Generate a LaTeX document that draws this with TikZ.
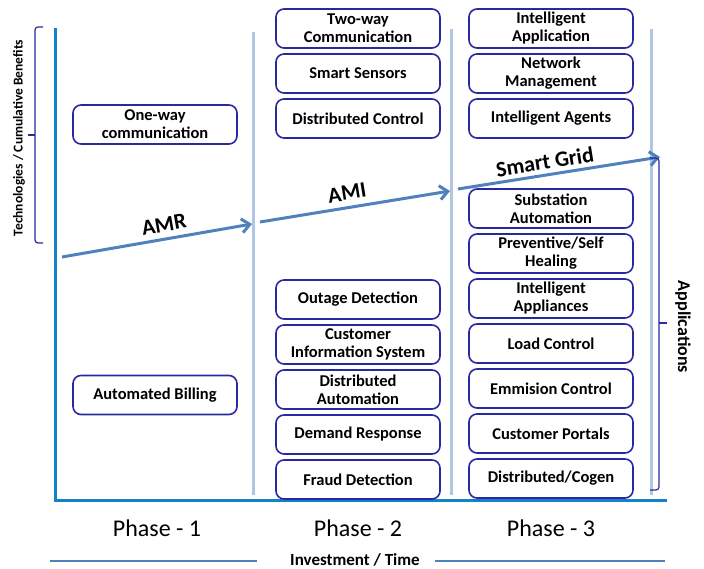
\documentclass[tikz,border=0pt]{standalone}
\usepackage{fontspec}
\setmainfont{Carlito}
\usetikzlibrary{positioning,arrows.meta}
\definecolor{axisblue}{RGB}{20,130,200}
\definecolor{sepblue}{RGB}{175,198,228}
\definecolor{arrowblue}{RGB}{79,129,189}
\definecolor{boxnavy}{RGB}{40,40,160}

\begin{document}
\begin{tikzpicture}[x=1pt,y=-1pt]
  \tikzstyle{box}=[draw=boxnavy, line width=1.6pt, rounded corners=8pt, minimum width=164pt, minimum height=39pt, inner sep=0pt, outer sep=0pt, align=center, font=\fontsize{16.5}{18}\selectfont\bfseries]
  \tikzstyle{sep}=[sepblue, line width=3pt]
  \tikzstyle{trend}=[arrowblue, line width=3pt, -{Straight Barb[length=8pt,width=14pt]}]
  \tikzstyle{trendlabel}=[sloped, above, text=black, inner sep=6pt, font=\fontsize{22}{24}\selectfont\bfseries]
  \tikzstyle{bracket}=[boxnavy, line width=1.2pt, rounded corners=3pt]
  \tikzstyle{phase}=[font=\fontsize{24}{28}\selectfont]
  \useasboundingbox (0,0) rectangle (704,569);

  \draw[sep] (253,32) -- (253,495);
  \draw[sep] (451,29) -- (451,495);
  \draw[sep] (651,29) -- (651,495);

  \draw[axisblue, line width=3pt] (55,28) -- (55,500) -- (667,500);

  \coordinate (amr0) at (62,257);
  \coordinate (amr1) at (252,224);
  \coordinate (ami0) at (260,222);
  \coordinate (ami1) at (450,191);
  \coordinate (sg0) at (458,189);
  \coordinate (sg1) at (660,157);
  \draw[trend] (amr0) -- node[trendlabel, pos=0.55] (amr) {AMR} (amr1);
  \draw[trend] (ami0) -- node[trendlabel, pos=0.47] (ami) {AMI} (ami1);
  \draw[trend] (sg0) -- node[trendlabel, pos=0.44, inner sep=4pt] (sg) {Smart Grid} (sg1);

  \node[box] (oneway) at (155,124.5) {One-way\\communication};
  \node[box] (billing) at (155,395) {Automated Billing};

  \node[box] (twoway) at (358,28.5) {Two-way\\Communication};
  \node[box] (sensors) [below=6pt of twoway] {Smart Sensors};
  \node[box] (dcontrol) [below=6pt of sensors] {Distributed Control};
  \node[box] (outage) at (358,299.5) {Outage Detection};
  \node[box] (cis) [below=6pt of outage] {Customer\\Information System};
  \node[box] (dauto) [below=6pt of cis] {Distributed\\Automation};
  \node[box] (demand) [below=6pt of dauto] {Demand Response};
  \node[box] (fraud) [below=6pt of demand] {Fraud Detection};

  \node[box] (iapp) at (551,28.5) {Intelligent\\Application};
  \node[box] (netman) [below=6pt of iapp] {Network\\Management};
  \node[box] (agents) [below=6pt of netman] {Intelligent Agents};
  \node[box] (substation) at (551,208.5) {Substation\\Automation};
  \node[box] (healing) [below=6pt of substation] {Preventive/Self\\Healing};
  \node[box] (appliances) [below=6pt of healing] {Intelligent\\Appliances};
  \node[box] (load) [below=6pt of appliances] {Load Control};
  \node[box] (emmision) [below=6pt of load] {Emmision Control};
  \node[box] (portals) [below=6pt of emmision] {Customer Portals};
  \node[box] (cogen) [below=6pt of portals] {Distributed/Cogen};

  \draw[bracket] (43,27) -- (35,27) -- (35,243) -- (43,243);
  \draw[bracket] (35,135) -- (28,135);
  \node[rotate=90, font=\fontsize{13.5}{15}\selectfont\bfseries] (tech) at (19,138) {Technologies / Cumulative Benefits};

  \draw[bracket] (650,158) -- (659,158) -- (659,490) -- (650,490);
  \draw[bracket] (659,323) -- (667,323);
  \node[rotate=-90, font=\fontsize{18}{20}\selectfont\bfseries] (apps) at (683,327) {Applications};

  \node[phase] (p1) at (157,528) {Phase - 1};
  \node[phase] (p2) at (358,528) {Phase - 2};
  \node[phase] (p3) at (551,528) {Phase - 3};

  \node[font=\fontsize{17}{20}\selectfont\bfseries] (invest) at (355,560) {Investment / Time};
  \coordinate (inv0) at (50,561);
  \coordinate (inv1) at (665,561);
  \draw[arrowblue, line width=2.5pt] (inv0) -- ([xshift=-30pt]invest.west |- inv0);
  \draw[arrowblue, line width=2.5pt] ([xshift=12pt]invest.east |- inv1) -- (inv1);
\end{tikzpicture}
\end{document}
